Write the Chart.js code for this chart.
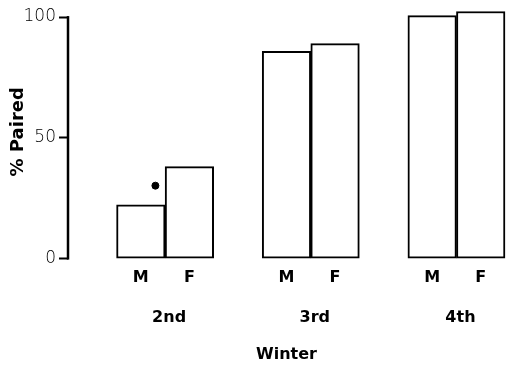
<!DOCTYPE html>
<html>
<head>
<meta charset="utf-8">
<script src="https://cdn.jsdelivr.net/npm/chart.js@4/dist/chart.umd.min.js"></script>
<style>
  html, body { margin: 0; padding: 0; background: #fff; }
  #wrap { width: 510px; height: 367px; }
</style>
</head>
<body>
<div id="wrap"><canvas id="c" width="510" height="367"></canvas></div>
<script>
// ---- data ----
const winters = ['2nd', '3rd', '4th'];
const sexes = ['M', 'F'];
const male = [22.3, 85.8, 100.6];
const female = [38.1, 89.0, 102.3];
const dotWinterIndex = 0;     // dot above the 2nd-winter males
const dotValue = 30.2;
const yTicks = [0, 50, 100];

// build category slots: a spacer before each winter group, then M, F
const labels = [];
const barValues = [];
winters.forEach((w, i) => {
  labels.push('');
  barValues.push(null);
  labels.push(sexes[0]); barValues.push(male[i]);
  labels.push(sexes[1]); barValues.push(female[i]);
});

const BOLD = '"DejaVu Sans", "Liberation Sans", sans-serif';

const groupLabelPlugin = {
  id: 'groupLabels',
  afterDraw(chart) {
    const ctx = chart.ctx;
    const xs = chart.scales.x;
    const ys = chart.scales.y;
    ctx.save();
    // y axis line from 0 to 100
    ctx.strokeStyle = '#000';
    ctx.lineWidth = 2.5;
    ctx.beginPath();
    const ax = chart.chartArea.left;
    ctx.moveTo(ax, ys.getPixelForValue(0) + 1);
    ctx.lineTo(ax, ys.getPixelForValue(100) - 1);
    ctx.stroke();
    // group labels
    ctx.fillStyle = '#000';
    ctx.font = 'bold 16px ' + BOLD;
    ctx.textAlign = 'center';
    ctx.textBaseline = 'middle';
    winters.forEach((w, i) => {
      const x = (xs.getPixelForValue(3 * i + 1) + xs.getPixelForValue(3 * i + 2)) / 2;
      ctx.fillText(w, x + 4, chart.chartArea.bottom + 59);
    });
    ctx.restore();
  }
};

new Chart(document.getElementById('c'), {
  type: 'bar',
  data: {
    labels: labels,
    datasets: [
      {
        type: 'bar',
        data: barValues,
        backgroundColor: '#ffffff',
        borderColor: '#000000',
        borderWidth: 2,
        borderSkipped: false,
        barPercentage: 1,
        categoryPercentage: 1,
        grouped: false,
        xAxisID: 'x',
        clip: false,
        order: 2
      },
      {
        type: 'scatter',
        data: [{ x: 3 * dotWinterIndex + 1.8, y: dotValue }],
        xAxisID: 'x2',
        pointRadius: 3.5,
        pointBackgroundColor: '#000',
        pointBorderColor: '#000',
        order: 1
      }
    ]
  },
  options: {
    responsive: false,
    animation: false,
    layout: { padding: { top: 3, right: 0, left: 0, bottom: 0 } },
    datasets: { bar: { barPercentage: 1, categoryPercentage: 1 } },
    plugins: {
      legend: { display: false },
      tooltip: { enabled: false }
    },
    scales: {
      x: {
        type: 'category',
        offset: true,
        grid: { display: false },
        border: { display: false },
        afterFit(scale) { scale.paddingLeft = 0; scale.paddingRight = 0; },
        ticks: {
          color: '#000',
          font: { family: BOLD, size: 16, weight: 'bold' },
          padding: 2,
          maxRotation: 0,
          autoSkip: false
        },
        title: {
          display: true,
          text: 'Winter',
          color: '#000',
          font: { family: BOLD, size: 16, weight: 'bold' },
          padding: { top: 55, bottom: 3 }
        }
      },
      x2: {
        type: 'linear',
        display: false,
        offset: false,
        min: 0,
        max: labels.length
      },
      y: {
        min: 0,
        max: 105,
        afterBuildTicks(scale) { scale.ticks = yTicks.map(v => ({ value: v })); },
        afterFit(scale) { scale.width = 68; scale.paddingTop = 0; scale.paddingBottom = 0; },
        grid: {
          display: true,
          drawOnChartArea: false,
          drawTicks: true,
          tickLength: 9,
          tickWidth: 2,
          color: '#000'
        },
        border: { display: false },
        ticks: {
          color: '#000',
          padding: 3,
          font: { family: '"DejaVu Sans", sans-serif', size: 17, weight: 200 }
        },
        title: {
          display: true,
          text: '% Paired',
          color: '#000',
          font: { family: BOLD, size: 18, weight: 'bold' },
          padding: { top: 8, bottom: 0 }
        }
      }
    }
  },
  plugins: [groupLabelPlugin]
});
</script>
</body>
</html>
